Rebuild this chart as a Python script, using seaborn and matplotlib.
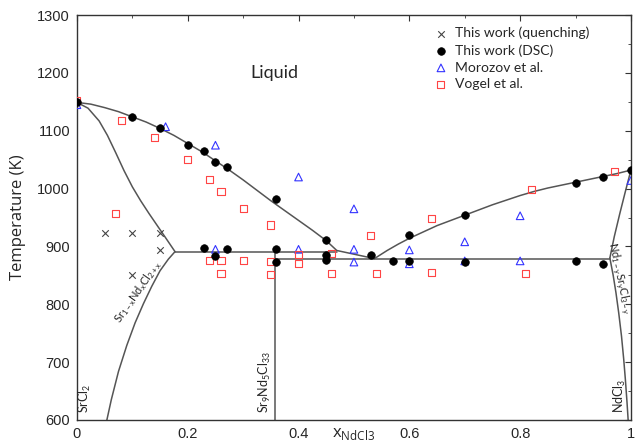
import numpy as np
import pandas as pd
import matplotlib
matplotlib.use("Agg")
import matplotlib.pyplot as plt
from matplotlib.ticker import MultipleLocator, FixedLocator
import seaborn as sns

# ---------------- data ----------------
quench_x = [0.05, 0.10, 0.15, 0.15, 0.10]
quench_T = [924, 924, 924, 894, 851]

dsc_x = [0.0, 0.10, 0.15, 0.20, 0.23, 0.25, 0.27, 0.36, 0.45,
         0.23, 0.25, 0.27, 0.36, 0.36, 0.45, 0.45, 0.53, 0.57, 0.60, 0.60,
         0.70, 0.70, 0.90, 0.95, 1.00, 0.90, 0.95]
dsc_T = [1149, 1123, 1105, 1076, 1065, 1046, 1038, 982, 911,
         898, 883, 895, 895, 873, 885, 877, 885, 875, 875, 920,
         955, 873, 1010, 1020, 1032, 875, 869]

moro_x = [0.0, 0.16, 0.25, 0.40, 0.25, 0.40, 0.50, 0.50, 0.50, 0.60, 0.60,
          0.70, 0.70, 0.80, 0.80, 1.00]
moro_T = [1145, 1107, 1075, 1020, 895, 895, 965, 895, 873, 894, 870,
          908, 875, 953, 875, 1014]

vogel_x = [0.0, 0.08, 0.14, 0.20, 0.24, 0.26, 0.30, 0.35, 0.07,
           0.24, 0.26, 0.26, 0.30, 0.35, 0.35, 0.40, 0.40, 0.46, 0.46,
           0.53, 0.54, 0.64, 0.64, 0.81, 0.82, 0.97]
vogel_T = [1152, 1118, 1088, 1051, 1015, 995, 966, 937, 957,
           875, 876, 853, 875, 874, 852, 886, 870, 888, 854,
           919, 854, 949, 855, 853, 998, 1030]

# phase-boundary lines
liq_left_x = [0.0, 0.025, 0.05, 0.075, 0.10, 0.125, 0.15, 0.175, 0.20, 0.225,
              0.25, 0.275, 0.30, 0.325, 0.35, 0.375, 0.40, 0.425, 0.45, 0.469, 0.537]
liq_left_T = [1149, 1146, 1140, 1133, 1124, 1115, 1104, 1092, 1078, 1064,
              1048, 1032, 1015, 997, 979, 962, 945, 928, 910, 893, 879]
liq_right_x = [0.537, 0.56, 0.58, 0.60, 0.625, 0.65, 0.675, 0.70, 0.725, 0.75,
               0.775, 0.80, 0.825, 0.85, 0.875, 0.90, 0.925, 0.95, 0.975, 1.0]
liq_right_T = [879, 893, 904, 914, 925, 936, 945, 954, 963, 972,
               980, 988, 995, 1001, 1006, 1011, 1016, 1021, 1026, 1032]
sol_left_x = [0.0, 0.02, 0.04, 0.055, 0.07, 0.085, 0.10, 0.115, 0.13, 0.145, 0.16, 0.177]
sol_left_T = [1149, 1139, 1117, 1092, 1062, 1031, 1003, 979, 957, 936, 915, 891]
solvus_left_x = [0.177, 0.165, 0.15, 0.135, 0.12, 0.105, 0.09, 0.075, 0.062, 0.054]
solvus_left_T = [891, 878, 858, 831, 801, 768, 729, 684, 635, 600]
sol_right_x = [1.0, 0.99, 0.98, 0.97, 0.962]
sol_right_T = [1032, 995, 957, 917, 880]
solvus_right_x = [0.962, 0.968, 0.973, 0.978, 0.983, 0.987, 0.990, 0.993, 0.995]
solvus_right_T = [880, 850, 820, 785, 745, 705, 670, 630, 600]
upper_iso_x = [0.177, 0.469]
upper_iso_T = [891, 891]
lower_iso_x = [0.358, 0.962]
lower_iso_T = [879, 879]
compound_x = [0.358, 0.358]
compound_T = [600, 891]

xtick_vals = [0, 0.2, 0.4, 0.6, 0.8, 1.0]
xtick_labels = ["0", "0.2", "0.4", "0.6", "0.8", "1"]
ytick_vals = [600, 700, 800, 900, 1000, 1100, 1200, 1300]

# ---------------- plot ----------------
sns.set_style("white")
plt.rcParams['font.family'] = ['Liberation Sans', 'DejaVu Sans']

fig = plt.figure(figsize=(6.36, 4.43), dpi=100)
ax = fig.add_axes([0.121, 0.052, 0.871, 0.914])

line_col = "#555555"
lines = [
    (liq_left_x, liq_left_T), (liq_right_x, liq_right_T),
    (sol_left_x, sol_left_T), (solvus_left_x, solvus_left_T),
    (sol_right_x, sol_right_T), (solvus_right_x, solvus_right_T),
    (upper_iso_x, upper_iso_T), (lower_iso_x, lower_iso_T),
    (compound_x, compound_T),
]
for lx, lt in lines:
    sns.lineplot(x=lx, y=lt, sort=False, estimator=None, color=line_col,
                 lw=1.1, ax=ax, legend=False)

sns.scatterplot(x=quench_x, y=quench_T, marker="x", color="#444444", s=22,
                linewidth=0.8, ax=ax, label="This work (quenching)", zorder=3)
sns.scatterplot(x=dsc_x, y=dsc_T, marker="o", color="black", s=30,
                edgecolor="black", linewidth=0.5, ax=ax, label="This work (DSC)", zorder=4)
sns.scatterplot(x=moro_x, y=moro_T, marker="^", facecolor="none",
                edgecolor="#3333ff", s=30, linewidth=0.8, ax=ax,
                label="Morozov et al.", zorder=3)
sns.scatterplot(x=vogel_x, y=vogel_T, marker="s", facecolor="none",
                edgecolor="#ff4444", s=26, linewidth=0.8, ax=ax,
                label="Vogel et al.", zorder=3)

ax.set_xlim(0, 1)
ax.set_ylim(600, 1300)
ax.xaxis.set_major_locator(FixedLocator(xtick_vals))
ax.set_xticklabels(xtick_labels)
ax.xaxis.set_minor_locator(MultipleLocator(0.1))
ax.yaxis.set_major_locator(FixedLocator(ytick_vals))
ax.yaxis.set_minor_locator(MultipleLocator(50))
ax.tick_params(which="both", direction="in", top=True, right=True,
               labelsize=10.5, color="#333333", pad=5)
ax.tick_params(which="major", length=4)
ax.tick_params(which="minor", length=2.5)
for sp in ax.spines.values():
    sp.set_color("#333333")
    sp.set_linewidth(1.0)

ax.set_ylabel("Temperature (K)", fontsize=12, family=["Open Sans", "DejaVu Sans"], labelpad=8)
ax.set_xlabel(r"x$_{\mathregular{NdCl3}}$", fontsize=12, family=["Open Sans", "DejaVu Sans"])
ax.xaxis.set_label_coords(0.5, -0.014)

lab_font = ["Lato", "DejaVu Sans"]
ax.text(0.357, 1199, "Liquid", fontsize=13, family=lab_font, ha="center", va="center")
ax.text(0.0144, 612, r"SrCl$_{\mathregular{2}}$", rotation=90, fontsize=9,
        family=lab_font, ha="left", va="center", rotation_mode="anchor")
ax.text(0.339, 612, r"Sr$_{\mathregular{9}}$Nd$_{\mathregular{5}}$Cl$_{\mathregular{33}}$",
        rotation=90, fontsize=9, family=lab_font, ha="left", va="center",
        rotation_mode="anchor")
ax.text(0.981, 612, r"NdCl$_{\mathregular{3}}$", rotation=90, fontsize=9,
        family=lab_font, ha="left", va="center", rotation_mode="anchor")
ax.text(0.110, 822, r"Sr$_{\mathregular{1-x}}$Nd$_{\mathregular{x}}$Cl$_{\mathregular{2+x}}$",
        rotation=55, fontsize=8, family=lab_font, ha="center", va="center",
        rotation_mode="anchor")
ax.text(0.979, 845, r"Nd$_{\mathregular{1-y}}$Sr$_{\mathregular{y}}$Cl$_{\mathregular{3-y}}$",
        rotation=-78, fontsize=8, family=lab_font, ha="center", va="center",
        rotation_mode="anchor")

leg = ax.legend(loc="upper left", bbox_to_anchor=(0.632, 0.985), frameon=False,
                prop={"family": lab_font, "size": 10}, handletextpad=0.4,
                labelspacing=0.35, borderaxespad=0, handlelength=1.2)

fig.savefig("out.png", dpi=100)
